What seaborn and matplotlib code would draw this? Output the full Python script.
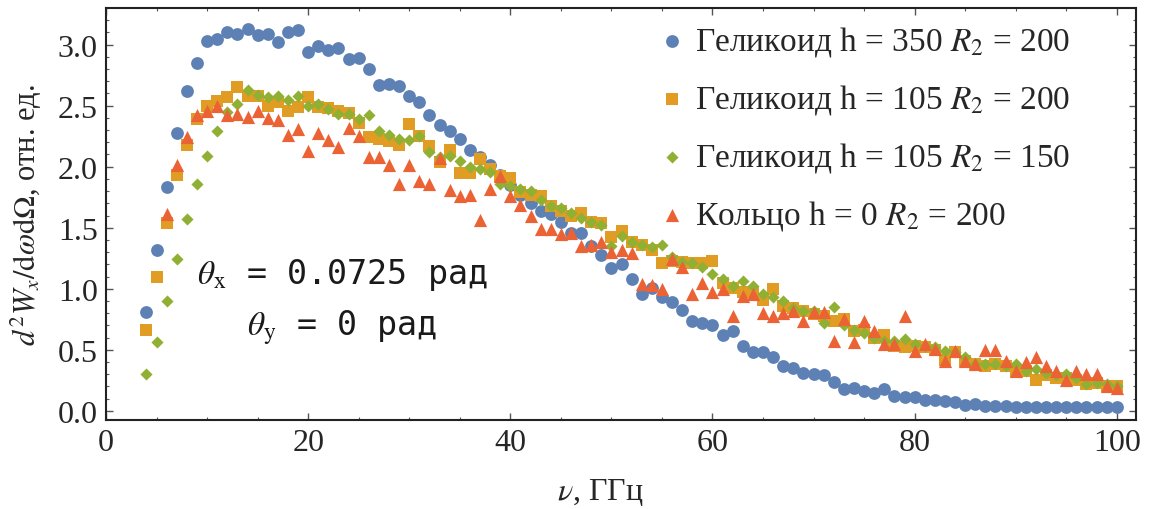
import numpy as np
import pandas as pd
import matplotlib
matplotlib.use("Agg")
import matplotlib.pyplot as plt
import seaborn as sns
from matplotlib.ticker import MultipleLocator

# Frequency grid, GHz
nu = list(range(4, 101))

helicoid_350_200 = [
    0.81, 1.32, 1.83, 2.28, 2.62, 2.85, 3.03, 3.05, 3.10, 3.09,
    3.13, 3.08, 3.09, 3.02, 3.10, 3.12, 2.94, 2.99, 2.96, 2.97,
    2.88, 2.89, 2.80, 2.67, 2.68, 2.66, 2.58, 2.53, 2.42, 2.34,
    2.29, 2.23, 2.14, 2.08, 2.01, 1.93, 1.85, 1.77, 1.70, 1.64,
    1.61, 1.55, 1.46, 1.46, 1.35, 1.28, 1.17, 1.20, 1.08, 0.96,
    1.01, 0.93, 0.89, 0.83, 0.74, 0.72, 0.70, 0.62, 0.65, 0.53,
    0.48, 0.48, 0.44, 0.37, 0.35, 0.31, 0.30, 0.29, 0.24, 0.18,
    0.19, 0.16, 0.15, 0.18, 0.12, 0.11, 0.11, 0.09, 0.09, 0.08,
    0.07, 0.05, 0.06, 0.04, 0.04, 0.04, 0.03, 0.03, 0.03, 0.03,
    0.03, 0.03, 0.03, 0.03, 0.03, 0.03, 0.03,
]

helicoid_105_200 = [
    0.66, 1.10, 1.54, 1.93, 2.18, 2.39, 2.50, 2.54, 2.57, 2.65,
    2.58, 2.58, 2.50, 2.53, 2.46, 2.49, 2.57, 2.49, 2.48, 2.46,
    2.44, 2.36, 2.24, 2.23, 2.21, 2.18, 2.35, 2.25, 2.17, 2.04,
    2.14, 1.95, 1.95, 2.06, 1.98, 1.92, 1.91, 1.79, 1.77, 1.76,
    1.68, 1.64, 1.60, 1.62, 1.55, 1.54, 1.42, 1.47, 1.38, 1.36,
    1.32, 1.21, 1.23, 1.22, 1.21, 1.21, 1.23, 1.05, 1.01, 0.97,
    0.97, 0.91, 1.00, 0.86, 0.84, 0.82, 0.79, 0.78, 0.74, 0.75,
    0.65, 0.66, 0.60, 0.62, 0.53, 0.52, 0.53, 0.52, 0.50, 0.42,
    0.48, 0.41, 0.38, 0.37, 0.38, 0.37, 0.33, 0.33, 0.25, 0.29,
    0.27, 0.27, 0.25, 0.22, 0.23, 0.20, 0.20,
]

helicoid_105_150 = [
    0.30, 0.56, 0.90, 1.24, 1.57, 1.86, 2.09, 2.29, 2.45, 2.51,
    2.63, 2.59, 2.57, 2.58, 2.55, 2.58, 2.50, 2.51, 2.47, 2.43,
    2.43, 2.39, 2.42, 2.29, 2.26, 2.23, 2.22, 2.25, 2.12, 2.08,
    2.09, 2.05, 2.00, 1.98, 1.96, 1.86, 1.84, 1.82, 1.80, 1.73,
    1.68, 1.66, 1.62, 1.58, 1.55, 1.52, 1.35, 1.43, 1.38, 1.36,
    1.34, 1.36, 1.26, 1.22, 1.21, 1.18, 1.12, 1.08, 1.02, 1.06,
    1.02, 0.96, 0.93, 0.90, 0.84, 0.82, 0.82, 0.72, 0.85, 0.70,
    0.66, 0.64, 0.60, 0.57, 0.57, 0.59, 0.55, 0.53, 0.52, 0.49,
    0.48, 0.44, 0.38, 0.38, 0.38, 0.37, 0.38, 0.33, 0.34, 0.31,
    0.29, 0.30, 0.27, 0.22, 0.23, 0.22, 0.20,
]

ring_0_200 = [
    None, None, 1.61, 2.01, 2.24, 2.42, 2.46, 2.50, 2.42, 2.43,
    2.41, 2.46, 2.40, 2.38, 2.26, 2.31, 2.13, 2.28, 2.22, 2.16,
    2.32, 2.25, 2.08, 2.08, 2.01, 1.86, 2.01, 1.88, 1.86, 2.07,
    1.81, 1.76, 1.77, 1.56, 1.82, 1.92, 1.76, 1.69, 1.60, 1.49,
    1.49, 1.45, 1.46, 1.35, 1.36, 1.38, 1.30, 1.32, 1.29, 1.04,
    1.03, 1.00, 1.24, 1.18, 0.96, 1.05, 0.97, 1.00, 0.78, 0.94,
    0.96, 0.80, 0.78, 0.80, 0.82, 0.74, 0.81, 0.81, 0.57, 0.75,
    0.56, 0.74, 0.65, 0.545, 0.545, 0.78, 0.49, 0.545, 0.51, 0.41,
    0.49, 0.41, 0.38, 0.50, 0.50, 0.41, 0.33, 0.40, 0.44, 0.37,
    0.33, 0.25, 0.33, 0.30, 0.30, 0.20, 0.19,
]

series_labels = [
    r"Геликоид h = 350 $R_2$ = 200",
    r"Геликоид h = 105 $R_2$ = 200",
    r"Геликоид h = 105 $R_2$ = 150",
    r"Кольцо h = 0 $R_2$ = 200",
]
series_values = [helicoid_350_200, helicoid_105_200, helicoid_105_150, ring_0_200]
colors = ["#5E81B5", "#E19C24", "#8FB032", "#EB6235"]
markers = ["o", "s", "D", "^"]
sizes = [85, 80, 38, 90]

sns.set_theme(style="white")
plt.rcParams["font.family"] = ["Liberation Serif", "DejaVu Serif"]
plt.rcParams["mathtext.fontset"] = "stix"

fig = plt.figure(figsize=(11.55, 5.10), dpi=100)
ax = fig.add_axes([106 / 1155, 1 - 421 / 510, (1136 - 106) / 1155, (421 - 9) / 510])

for label, vals, c, m, s in zip(series_labels, series_values, colors, markers, sizes):
    df = pd.DataFrame({"nu": nu, "val": pd.to_numeric(pd.Series(vals), errors="coerce")}).dropna()
    sns.scatterplot(data=df, x="nu", y="val", ax=ax, color=c, marker=m, s=s,
                    linewidth=0, label=label, zorder=3)

ax.set_xlim(0, 101.9)
ax.set_ylim(-0.075, 3.30)
ax.xaxis.set_major_locator(MultipleLocator(20))
ax.xaxis.set_minor_locator(MultipleLocator(5))
ax.yaxis.set_major_locator(MultipleLocator(0.5))
ax.yaxis.set_minor_locator(MultipleLocator(0.1))
ax.yaxis.set_major_formatter(matplotlib.ticker.FormatStrFormatter("%.1f"))

for sp in ax.spines.values():
    sp.set_visible(True)
    sp.set_color("#222222")
    sp.set_linewidth(1.5)

ax.tick_params(which="both", direction="in", top=True, right=True,
               bottom=True, left=True, color="#555555")
ax.tick_params(which="major", length=5, width=1.0, labelsize=23, pad=6)
ax.tick_params(which="minor", length=2.5, width=0.8)

ax.set_xlabel(r"$\nu$, ГГц", fontsize=23)
ax.xaxis.set_label_coords(0.48, -0.135)
ax.set_ylabel(r"$d^2W_x/\mathrm{d}\omega\mathrm{d}\Omega$, отн. ед.", fontsize=22, labelpad=10)

# Angle annotation
ax.text(23.4, 1.045, r"$\theta_{\mathrm{x}}$ = 0.0725 рад", ha="center", va="baseline",
        fontsize=24, family="DejaVu Sans Mono", color="#1a1a1a")
ax.text(23.4, 0.625, r"$\theta_{\mathrm{y}}$ = 0 рад", ha="center", va="baseline",
        fontsize=24, family="DejaVu Sans Mono", color="#1a1a1a")

handles, labels = ax.get_legend_handles_labels()
leg = ax.legend(handles, labels, loc="upper left", bbox_to_anchor=(642 / 1155, 1 - 12 / 510),
                bbox_transform=fig.transFigure, frameon=False, fontsize=24,
                handletextpad=0.2, labelspacing=0.72, borderaxespad=0, handlelength=1.0,
                markerscale=1.0)

fig.savefig("out.png", dpi=100)
